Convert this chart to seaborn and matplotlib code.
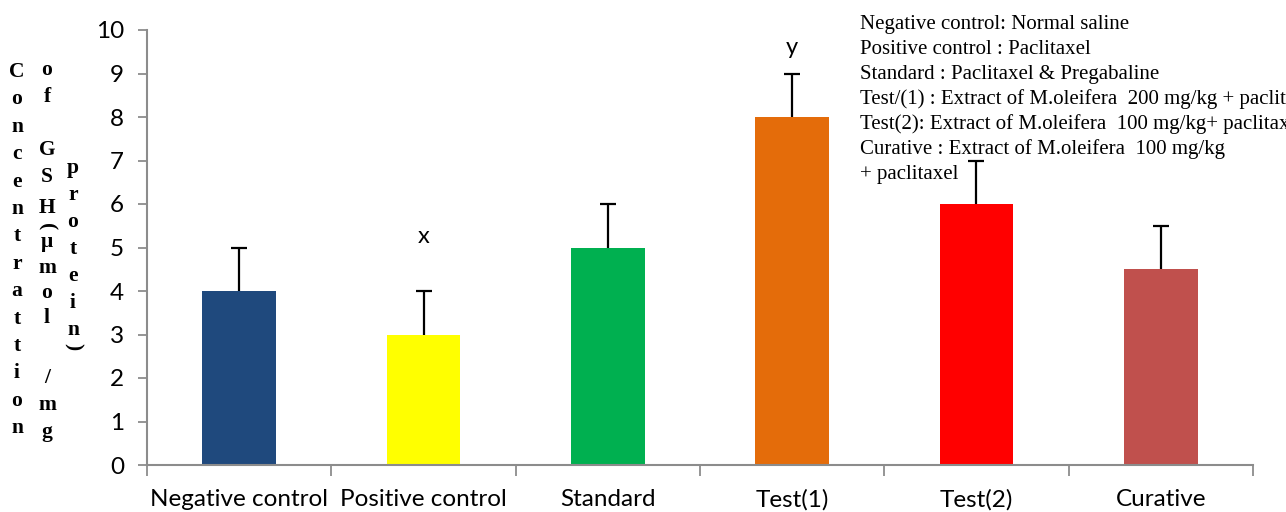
import matplotlib
matplotlib.use("Agg")
import matplotlib.pyplot as plt
from matplotlib.ticker import FixedLocator
import seaborn as sns
import pandas as pd

groups = ["Negative control", "Positive control", "Standard", "Test(1)", "Test(2)", "Curative"]
gsh = [4, 3, 5, 8, 6, 4.5]
gsh_err = [1, 1, 1, 1, 1, 1]
bar_colors = ["#1F497D", "#FFFF00", "#00B050", "#E46C0A", "#FF0000", "#C0504D"]
marks = {"Positive control": ("x", 5.25), "Test(1)": ("y", 9.6)}
y_ticks = list(range(0, 11))

legend_lines = [
    "Negative control: Normal saline",
    "Positive control : Paclitaxel",
    "Standard : Paclitaxel & Pregabaline",
    "Test/(1) : Extract of M.oleifera  200 mg/kg + paclitaxel",
    "Test(2): Extract of M.oleifera  100 mg/kg+ paclitaxel",
    "Curative : Extract of M.oleifera  100 mg/kg",
    "+ paclitaxel",
]

# vertical y-axis caption, stacked one glyph per row in three columns
label_cols = [
    list("Concentrattion"),
    ["o", "f", "", "G", "S", "H", "μ", "m", "o", "l", "", "/", "m", "g"],
    list("protein"),
]

sns.set_theme(style="white")
plt.rcParams["font.family"] = ["Lato", "DejaVu Sans"]

df = pd.DataFrame({"group": groups, "gsh": gsh})

fig = plt.figure(figsize=(12.86, 5.12), dpi=100)
ax = fig.add_axes([147 / 1286, 47 / 512, (1253 - 147) / 1286, (465 - 30) / 512])

sns.barplot(data=df, x="group", y="gsh", hue="group", palette=bar_colors,
            width=0.4, errorbar=None, legend=False, saturation=1,
            linewidth=0, ax=ax)

# upper-only error bars with a cap on top
eb = ax.errorbar(range(len(groups)), gsh, yerr=[[0] * len(groups), gsh_err],
                 fmt="none", ecolor="black", elinewidth=1.6, capsize=6,
                 capthick=1.6)
eb[1][0].set_visible(False)

for g, (txt, yv) in marks.items():
    ax.text(groups.index(g), yv, txt, ha="center", va="center", fontsize=17,
            color="black")

ax.set_xlim(-0.5, len(groups) - 0.5)
ax.set_ylim(0, 10)
ax.set_yticks(y_ticks)
ax.set_xlabel("")
ax.set_ylabel("")
axis_gray = "#8C8C8C"
for s in ["top", "right"]:
    ax.spines[s].set_visible(False)
for s in ["left", "bottom"]:
    ax.spines[s].set_color(axis_gray)
    ax.spines[s].set_linewidth(1.5)

ax.tick_params(axis="y", which="major", direction="out", length=6.5, width=1.3,
               color=axis_gray, labelsize=17.5, pad=10, left=True)
ax.tick_params(axis="x", which="major", length=0, labelsize=17.5, pad=17)
ax.xaxis.set_minor_locator(FixedLocator([i - 0.5 for i in range(len(groups) + 1)]))
ax.tick_params(axis="x", which="minor", direction="out", length=8, width=1.3,
               color=axis_gray, bottom=True)
for lbl in ax.get_xticklabels() + ax.get_yticklabels():
    lbl.set_color("black")

# treatment key in the upper right
for i, line in enumerate(legend_lines):
    fig.text(860 / 1286, 1 - (24 + i * 25) / 512, line, family="Liberation Serif",
             fontsize=15, ha="left", va="center", color="black")

# stacked y caption
serif = dict(family="Liberation Serif", fontweight="bold", fontsize=15.5,
             ha="center", va="center", color="black")
row_y = [72 + i * 27.4 for i in range(14)]
for ch, yy in zip(label_cols[0], row_y):
    fig.text(17 / 1286, 1 - yy / 512, ch, **serif)
col2_y = [70, 97, 0, 150, 177, 208, 242, 268, 293, 318, 0, 378, 405, 432]
for ch, yy in zip(label_cols[1], col2_y):
    if ch:
        fig.text(47 / 1286, 1 - yy / 512, ch, **serif)
fig.text(47 / 1286, 1 - 227 / 512, "(", rotation=-90, **serif)
col3_y = [168, 195, 222, 249, 276, 303, 330]
for ch, yy in zip(label_cols[2], col3_y):
    fig.text(73 / 1286, 1 - yy / 512, ch, **serif)
fig.text(73 / 1286, 1 - 347 / 512, ")", rotation=-90, **serif)

fig.savefig("out.png", dpi=100)
